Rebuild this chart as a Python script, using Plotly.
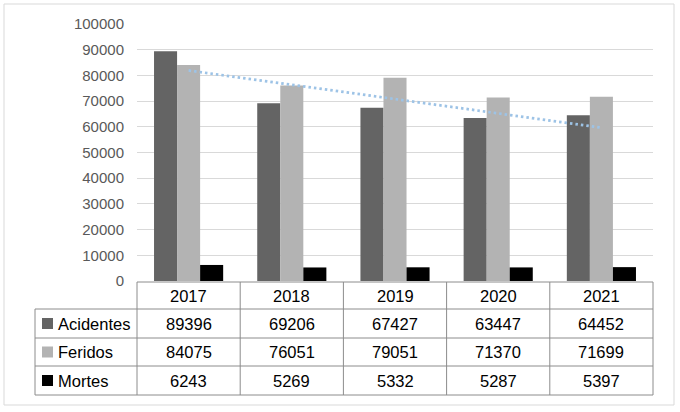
import numpy as np
import plotly.graph_objects as go

# ---- data ----
years = ["2017", "2018", "2019", "2020", "2021"]
acidentes = [89396, 69206, 67427, 63447, 64452]
feridos = [84075, 76051, 79051, 71370, 71699]
mortes = [6243, 5269, 5332, 5287, 5397]
series_names = ["Acidentes", "Feridos", "Mortes"]
y_ticks = [0, 10000, 20000, 30000, 40000, 50000, 60000, 70000, 80000, 90000, 100000]

# ---- styling / layout ----
W, H = 680, 412
PL, PR, PT, PB = 137, 653, 24, 281  # plot area in pixels
colors = ["#646464", "#B3B3B3", "#000000"]
trend_color = "#9DC3E6"
grid_color = "#D9D9D9"
table_line = "#8C8C8C"
FONT = "Liberation Sans"


def px_x(px):
    return (px - PL) / (PR - PL)


def px_y(py):
    return (PB - py) / (PB - PT)


fig = go.Figure()
all_series = [acidentes, feridos, mortes]
for name, vals, c in zip(series_names, all_series, colors):
    fig.add_trace(go.Bar(x=years, y=vals, name=name, marker=dict(color=c, line=dict(width=0))))

# linear trendline of Acidentes
idx = np.arange(1, len(years) + 1)
slope, intercept = np.polyfit(idx, acidentes, 1)
trend = slope * idx + intercept
fig.add_trace(go.Scatter(x=years, y=trend, mode="lines",
                         line=dict(color=trend_color, width=2.75, dash="2.5px,3px"),
                         showlegend=False, hoverinfo="skip"))

fig.update_layout(
    width=W, height=H,
    margin=dict(l=PL, r=W - PR, t=PT, b=H - PB),
    paper_bgcolor="white", plot_bgcolor="white",
    barmode="group", bargap=0.33, bargroupgap=0,
    showlegend=False,
    font=dict(family=FONT, color="#595959", size=14.5),
)
fig.update_xaxes(type="category", range=[-0.5, len(years) - 0.5], showticklabels=False,
                 showgrid=False, zeroline=False, showline=False, ticks="")
fig.update_yaxes(range=[0, 100000], tickvals=y_ticks, ticktext=[str(v) for v in y_ticks],
                 showgrid=True, gridcolor=grid_color, gridwidth=1, zeroline=False,
                 showline=False, ticks="", ticklabelstandoff=12,
                 tickfont=dict(family=FONT, size=15, color="#595959"))

shapes = []
# outer chart border
shapes.append(dict(type="rect", xref="paper", yref="paper",
                   x0=px_x(4), x1=px_x(674), y0=px_y(405), y1=px_y(4),
                   line=dict(color=grid_color, width=1), fillcolor="rgba(0,0,0,0)", layer="below"))

# table geometry (pixels)
row_edges = [282, 309, 338, 366, 395]
left_col = 35
col_w = (PR - PL) / len(years)
col_edges = [PL + i * col_w for i in range(len(years) + 1)]


def hline(py, x0, x1):
    shapes.append(dict(type="line", xref="paper", yref="paper",
                       x0=px_x(x0), x1=px_x(x1), y0=px_y(py), y1=px_y(py),
                       line=dict(color=table_line, width=1)))


def vline(px, y0, y1):
    shapes.append(dict(type="line", xref="paper", yref="paper",
                       x0=px_x(px), x1=px_x(px), y0=px_y(y0), y1=px_y(y1),
                       line=dict(color=table_line, width=1)))


hline(row_edges[0], PL, PR)
for r in row_edges[1:]:
    hline(r, left_col, PR)
vline(left_col, row_edges[1], row_edges[-1])
for ce in col_edges:
    vline(ce, row_edges[0], row_edges[-1])

annotations = []
tfont = dict(family=FONT, size=16.5, color="#000000")
# header row
hy = (row_edges[0] + row_edges[1]) / 2
for i, yr in enumerate(years):
    annotations.append(dict(x=px_x((col_edges[i] + col_edges[i + 1]) / 2), y=px_y(hy), text=yr,
                            showarrow=False, xref="paper", yref="paper", font=tfont,
                            xanchor="center", yanchor="middle"))
# data rows
for r, (name, vals, c) in enumerate(zip(series_names, all_series, colors)):
    cy = (row_edges[r + 1] + row_edges[r + 2]) / 2
    shapes.append(dict(type="rect", xref="paper", yref="paper",
                       x0=px_x(42), x1=px_x(53), y0=px_y(cy + 5.5), y1=px_y(cy - 5.5),
                       line=dict(width=0), fillcolor=c))
    annotations.append(dict(x=px_x(56), y=px_y(cy), text=name, showarrow=False,
                            xref="paper", yref="paper", font=tfont,
                            xanchor="left", yanchor="middle"))
    for i, v in enumerate(vals):
        annotations.append(dict(x=px_x((col_edges[i] + col_edges[i + 1]) / 2), y=px_y(cy), text=str(v),
                                showarrow=False, xref="paper", yref="paper", font=tfont,
                                xanchor="center", yanchor="middle"))

fig.update_layout(shapes=shapes, annotations=annotations)
fig.write_html("out.html", config={"displayModeBar": False},
               post_script="document.body.style.margin='0px';document.body.style.padding='0px';"
                           "document.body.style.overflow='hidden';")
